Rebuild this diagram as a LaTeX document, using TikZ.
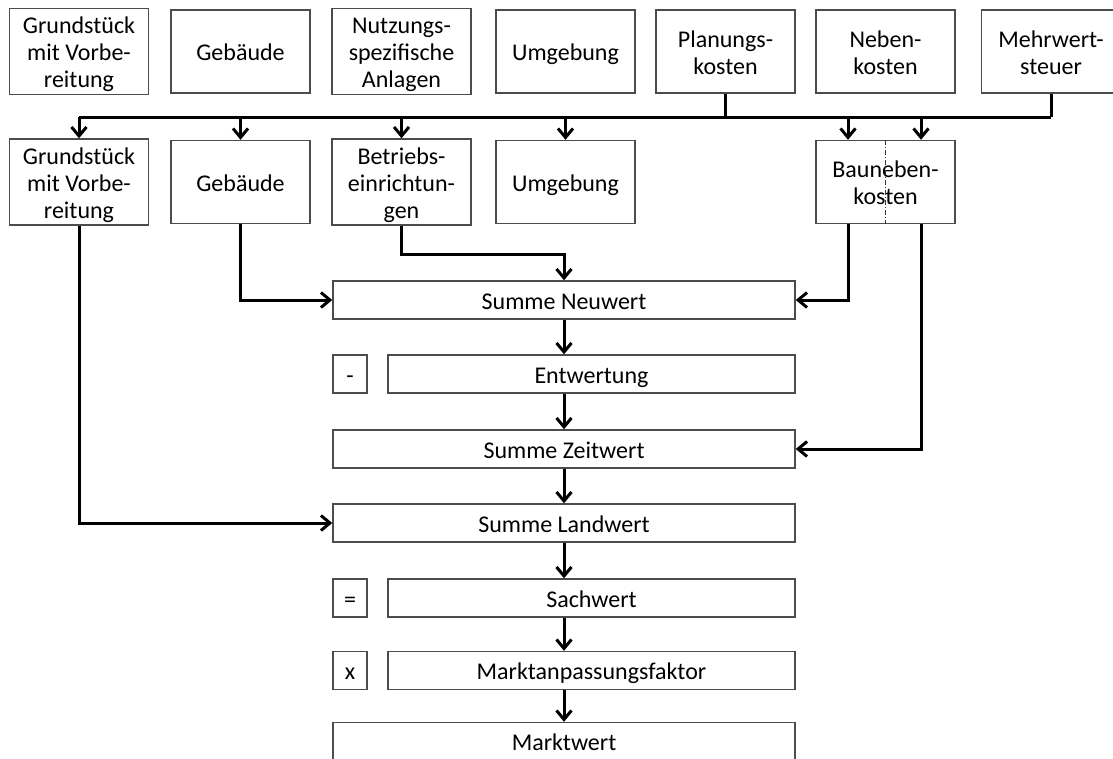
\documentclass[tikz,border=0pt]{standalone}
\usepackage{fontspec}
\setmainfont{Carlito}
\usetikzlibrary{arrows.meta}
\newcommand\hiR{\rule{0pt}{25pt}}
\newcommand\loR{\rule[-7pt]{0pt}{7pt}}
\tikzset{
  box/.style={draw=black!70, line width=1.4pt, inner sep=0pt, align=center,
    font=\fontsize{24}{27}\selectfont},
  topbox/.style={box, minimum width=139pt, minimum height=83pt},
  linebox/.style={box, minimum height=38pt,
    execute at begin node=\hiR, execute at end node=\loR},
  sumbox/.style={linebox, minimum width=462pt},
  valbox/.style={linebox, minimum width=407pt},
  opbox/.style={linebox, minimum width=34pt},
  conn/.style={line width=3pt, black},
  arr/.style={conn, -{Straight Barb[length=9pt,width=15pt]}},
}
\begin{document}
\begin{tikzpicture}[x=1pt, y=-1pt]
  \useasboundingbox (0,0) rectangle (1113,758);
  \clip (0,0) rectangle (1113,758);
  % cost groups
  \node[topbox] (t1) at (79,51.5) {\hiR Grundstück\\mit Vorbe-\\reitung\loR};
  \node[topbox] (t2) at (240.5,51.5) {\hiR Gebäude\loR};
  \node[topbox] (t3) at (401.5,51.5) {\hiR Nutzungs-\\spezifische\\Anlagen\loR};
  \node[topbox] (t4) at (565.5,51.5) {\hiR Umgebung\loR};
  \node[topbox] (t5) at (725.5,51.5) {\hiR Planungs-\\kosten\loR};
  \node[topbox] (t6) at (885.5,51.5) {\hiR Neben-\\kosten\loR};
  \node[topbox] (t7) at (1051,51.5) {\hiR Mehrwert-\\steuer\loR};
  % value groups
  \node[topbox] (g1) at (79,182) {\hiR Grundstück\\mit Vorbe-\\reitung\loR};
  \node[topbox] (g2) at (240.5,182) {\hiR Gebäude\loR};
  \node[topbox] (g3) at (401.5,182) {\hiR Betriebs-\\einrichtun-\\gen\loR};
  \node[topbox] (g4) at (565.5,182) {\hiR Umgebung\loR};
  \node[topbox] (bnk) at (885.5,182) {\hiR Bauneben-\\kosten\loR};
  \draw[black!80, line width=0.8pt, dash pattern=on 5pt off 2pt on 1pt off 2pt]
    (bnk.north) -- (bnk.south);
  % calculation
  \node[sumbox] (neu) at (564,300) {Summe Neuwert};
  \node[opbox] (minus) at (350,374) {-};
  \node[valbox] (entw) at (591.5,374) {Entwertung};
  \node[sumbox] (zeit) at (564,449) {Summe Zeitwert};
  \node[sumbox] (land) at (564,523) {Summe Landwert};
  \node[opbox] (gleich) at (350,598) {=};
  \node[valbox] (sach) at (591.5,598) {Sachwert};
  \node[opbox] (mal) at (350,670.5) {x};
  \node[valbox] (faktor) at (591.5,670.5) {Marktanpassungsfaktor};
  \node[sumbox] (markt) at (564,741.5) {Marktwert};
  % bus
  \coordinate (busL) at (79,117);
  \coordinate (busR) at (1051,117);
  \draw[conn] (busL) -- (busR);
  \draw[conn] (t5.south) -- (t5.south |- busL);
  \draw[conn] (t7.south) -- (busR);
  \draw[arr] (busL) -- (g1.north);
  \draw[arr] (g2.north |- busL) -- (g2.north);
  \draw[arr] (g3.north |- busL) -- (g3.north);
  \draw[arr] (g4.north |- busL) -- (g4.north);
  \draw[arr] ([xshift=-37.5pt]bnk.north |- busL) -- ([xshift=-37.5pt]bnk.north);
  \draw[arr] ([xshift=35.5pt]bnk.north |- busL) -- ([xshift=35.5pt]bnk.north);
  % into the sums
  \draw[arr] (g2.south) |- (neu.west);
  \draw[arr] (g3.south) -- ++(0,29) -| (neu.north);
  \draw[arr] ([xshift=-37.5pt]bnk.south) |- (neu.east);
  \draw[arr] ([xshift=35.5pt]bnk.south) |- (zeit.east);
  \draw[arr] (g1.south) |- (land.west);
  \draw[arr] (neu.south) -- (neu.south |- entw.north);
  \draw[arr] (neu.south |- entw.south) -- (zeit.north);
  \draw[arr] (zeit.south) -- (land.north);
  \draw[arr] (land.south) -- (land.south |- sach.north);
  \draw[arr] (land.south |- sach.south) -- (land.south |- faktor.north);
  \draw[arr] (land.south |- faktor.south) -- (markt.north);
\end{tikzpicture}
\end{document}
